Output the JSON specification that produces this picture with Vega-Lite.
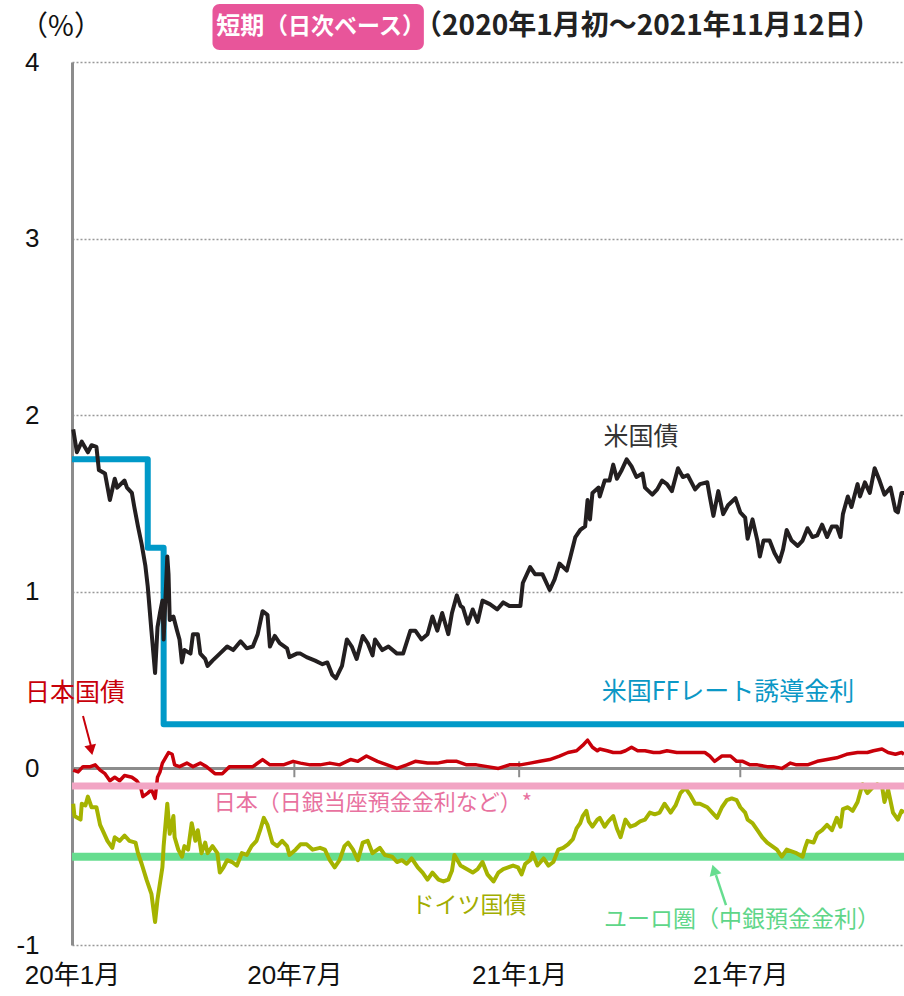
{
  "$schema": "https://vega.github.io/schema/vega-lite/v6.json",
  "width": 832,
  "height": 883,
  "autosize": {"type": "none"},
  "padding": {"left": 72, "top": 62, "right": 0, "bottom": 51},
  "background": "white",
  "config": {"view": {"stroke": null}},
  "datasets": {
    "us": [
      {"d":"2020-01-02","v":1.92},{"d":"2020-01-05","v":1.79},{"d":"2020-01-09","v":1.85},{"d":"2020-01-14","v":1.79},{"d":"2020-01-17","v":1.83},{"d":"2020-01-21","v":1.82},{"d":"2020-01-23","v":1.69},{"d":"2020-01-28","v":1.67},{"d":"2020-02-01","v":1.52},{"d":"2020-02-05","v":1.64},{"d":"2020-02-07","v":1.59},{"d":"2020-02-13","v":1.63},{"d":"2020-02-15","v":1.59},{"d":"2020-02-19","v":1.56},{"d":"2020-02-21","v":1.48},{"d":"2020-02-24","v":1.37},{"d":"2020-02-27","v":1.27},{"d":"2020-03-01","v":1.15},{"d":"2020-03-03","v":1.03},{"d":"2020-03-06","v":0.78},{"d":"2020-03-09","v":0.54},{"d":"2020-03-11","v":0.80},{"d":"2020-03-13","v":0.88},{"d":"2020-03-15","v":0.95},{"d":"2020-03-16","v":0.73},{"d":"2020-03-19","v":1.20},{"d":"2020-03-20","v":1.10},{"d":"2020-03-21","v":0.84},{"d":"2020-03-24","v":0.86},{"d":"2020-03-27","v":0.78},{"d":"2020-03-29","v":0.73},{"d":"2020-03-31","v":0.60},{"d":"2020-04-02","v":0.67},{"d":"2020-04-07","v":0.65},{"d":"2020-04-09","v":0.76},{"d":"2020-04-13","v":0.76},{"d":"2020-04-15","v":0.65},{"d":"2020-04-19","v":0.62},{"d":"2020-04-21","v":0.58},{"d":"2020-04-25","v":0.61},{"d":"2020-05-01","v":0.65},{"d":"2020-05-07","v":0.69},{"d":"2020-05-12","v":0.67},{"d":"2020-05-18","v":0.72},{"d":"2020-05-23","v":0.68},{"d":"2020-05-28","v":0.69},{"d":"2020-06-01","v":0.76},{"d":"2020-06-05","v":0.89},{"d":"2020-06-09","v":0.87},{"d":"2020-06-11","v":0.69},{"d":"2020-06-15","v":0.75},{"d":"2020-06-19","v":0.71},{"d":"2020-06-25","v":0.68},{"d":"2020-06-27","v":0.63},{"d":"2020-07-03","v":0.65},{"d":"2020-07-06","v":0.65},{"d":"2020-07-11","v":0.63},{"d":"2020-07-18","v":0.61},{"d":"2020-07-24","v":0.59},{"d":"2020-07-28","v":0.60},{"d":"2020-08-01","v":0.53},{"d":"2020-08-04","v":0.51},{"d":"2020-08-09","v":0.58},{"d":"2020-08-13","v":0.73},{"d":"2020-08-17","v":0.69},{"d":"2020-08-21","v":0.62},{"d":"2020-08-26","v":0.75},{"d":"2020-08-30","v":0.71},{"d":"2020-09-03","v":0.64},{"d":"2020-09-05","v":0.73},{"d":"2020-09-11","v":0.67},{"d":"2020-09-16","v":0.69},{"d":"2020-09-23","v":0.65},{"d":"2020-09-28","v":0.65},{"d":"2020-10-04","v":0.78},{"d":"2020-10-08","v":0.78},{"d":"2020-10-13","v":0.73},{"d":"2020-10-18","v":0.76},{"d":"2020-10-22","v":0.86},{"d":"2020-10-26","v":0.78},{"d":"2020-10-30","v":0.88},{"d":"2020-11-04","v":0.76},{"d":"2020-11-07","v":0.88},{"d":"2020-11-11","v":0.98},{"d":"2020-11-14","v":0.92},{"d":"2020-11-16","v":0.91},{"d":"2020-11-20","v":0.82},{"d":"2020-11-24","v":0.90},{"d":"2020-11-28","v":0.83},{"d":"2020-12-02","v":0.95},{"d":"2020-12-08","v":0.93},{"d":"2020-12-14","v":0.90},{"d":"2020-12-19","v":0.94},{"d":"2020-12-24","v":0.92},{"d":"2021-01-02","v":0.92},{"d":"2021-01-04","v":1.05},{"d":"2021-01-10","v":1.14},{"d":"2021-01-14","v":1.10},{"d":"2021-01-20","v":1.10},{"d":"2021-01-22","v":1.07},{"d":"2021-01-26","v":1.01},{"d":"2021-01-30","v":1.07},{"d":"2021-02-03","v":1.16},{"d":"2021-02-09","v":1.12},{"d":"2021-02-12","v":1.20},{"d":"2021-02-16","v":1.31},{"d":"2021-02-20","v":1.35},{"d":"2021-02-24","v":1.37},{"d":"2021-02-26","v":1.52},{"d":"2021-02-28","v":1.41},{"d":"2021-03-02","v":1.56},{"d":"2021-03-07","v":1.59},{"d":"2021-03-08","v":1.54},{"d":"2021-03-12","v":1.63},{"d":"2021-03-16","v":1.63},{"d":"2021-03-19","v":1.72},{"d":"2021-03-22","v":1.64},{"d":"2021-03-26","v":1.69},{"d":"2021-03-30","v":1.75},{"d":"2021-04-03","v":1.71},{"d":"2021-04-07","v":1.65},{"d":"2021-04-12","v":1.67},{"d":"2021-04-14","v":1.59},{"d":"2021-04-20","v":1.55},{"d":"2021-04-24","v":1.58},{"d":"2021-04-28","v":1.63},{"d":"2021-05-02","v":1.61},{"d":"2021-05-06","v":1.57},{"d":"2021-05-11","v":1.70},{"d":"2021-05-15","v":1.65},{"d":"2021-05-19","v":1.66},{"d":"2021-05-25","v":1.58},{"d":"2021-05-29","v":1.61},{"d":"2021-06-04","v":1.62},{"d":"2021-06-06","v":1.54},{"d":"2021-06-09","v":1.43},{"d":"2021-06-13","v":1.57},{"d":"2021-06-17","v":1.44},{"d":"2021-06-21","v":1.49},{"d":"2021-06-27","v":1.53},{"d":"2021-07-01","v":1.45},{"d":"2021-07-05","v":1.42},{"d":"2021-07-07","v":1.30},{"d":"2021-07-11","v":1.41},{"d":"2021-07-15","v":1.29},{"d":"2021-07-17","v":1.20},{"d":"2021-07-20","v":1.29},{"d":"2021-07-25","v":1.29},{"d":"2021-07-29","v":1.22},{"d":"2021-08-02","v":1.17},{"d":"2021-08-05","v":1.24},{"d":"2021-08-08","v":1.35},{"d":"2021-08-12","v":1.29},{"d":"2021-08-17","v":1.26},{"d":"2021-08-21","v":1.29},{"d":"2021-08-25","v":1.36},{"d":"2021-08-29","v":1.31},{"d":"2021-09-02","v":1.32},{"d":"2021-09-06","v":1.38},{"d":"2021-09-10","v":1.31},{"d":"2021-09-14","v":1.37},{"d":"2021-09-18","v":1.37},{"d":"2021-09-21","v":1.31},{"d":"2021-09-23","v":1.44},{"d":"2021-09-27","v":1.54},{"d":"2021-09-30","v":1.48},{"d":"2021-10-05","v":1.61},{"d":"2021-10-07","v":1.54},{"d":"2021-10-11","v":1.62},{"d":"2021-10-15","v":1.56},{"d":"2021-10-19","v":1.70},{"d":"2021-10-23","v":1.63},{"d":"2021-10-27","v":1.55},{"d":"2021-11-01","v":1.59},{"d":"2021-11-05","v":1.46},{"d":"2021-11-07","v":1.45},{"d":"2021-11-10","v":1.56},{"d":"2021-11-12","v":1.56}
    ],
    "jgb": [
      {"d":"2020-01-02","v":-0.01},{"d":"2020-01-06","v":-0.02},{"d":"2020-01-10","v":0.01},{"d":"2020-01-16","v":0.01},{"d":"2020-01-20","v":0.02},{"d":"2020-01-24","v":-0.01},{"d":"2020-01-28","v":-0.03},{"d":"2020-02-01","v":-0.07},{"d":"2020-02-05","v":-0.05},{"d":"2020-02-09","v":-0.07},{"d":"2020-02-13","v":-0.04},{"d":"2020-02-19","v":-0.05},{"d":"2020-02-23","v":-0.07},{"d":"2020-02-26","v":-0.10},{"d":"2020-02-28","v":-0.16},{"d":"2020-03-03","v":-0.14},{"d":"2020-03-06","v":-0.12},{"d":"2020-03-09","v":-0.17},{"d":"2020-03-11","v":-0.05},{"d":"2020-03-13","v":-0.02},{"d":"2020-03-15","v":0.03},{"d":"2020-03-20","v":0.09},{"d":"2020-03-23","v":0.08},{"d":"2020-03-25","v":0.02},{"d":"2020-03-29","v":0.01},{"d":"2020-04-04","v":0.03},{"d":"2020-04-09","v":0.01},{"d":"2020-04-15","v":0.03},{"d":"2020-04-20","v":0.01},{"d":"2020-04-27","v":-0.03},{"d":"2020-05-03","v":-0.03},{"d":"2020-05-09","v":0.01},{"d":"2020-05-17","v":0.01},{"d":"2020-05-28","v":0.01},{"d":"2020-06-05","v":0.05},{"d":"2020-06-11","v":0.02},{"d":"2020-06-22","v":0.02},{"d":"2020-06-30","v":0.04},{"d":"2020-07-06","v":0.03},{"d":"2020-07-14","v":0.02},{"d":"2020-07-22","v":0.02},{"d":"2020-07-30","v":0.03},{"d":"2020-08-07","v":0.02},{"d":"2020-08-16","v":0.05},{"d":"2020-08-22","v":0.04},{"d":"2020-08-29","v":0.07},{"d":"2020-09-07","v":0.04},{"d":"2020-09-15","v":0.02},{"d":"2020-09-23","v":0.00},{"d":"2020-10-01","v":0.02},{"d":"2020-10-08","v":0.04},{"d":"2020-10-18","v":0.03},{"d":"2020-10-26","v":0.03},{"d":"2020-11-03","v":0.04},{"d":"2020-11-11","v":0.04},{"d":"2020-11-19","v":0.02},{"d":"2020-11-27","v":0.02},{"d":"2020-12-06","v":0.01},{"d":"2020-12-15","v":0.00},{"d":"2020-12-24","v":0.02},{"d":"2021-01-02","v":0.02},{"d":"2021-01-10","v":0.03},{"d":"2021-01-18","v":0.04},{"d":"2021-01-26","v":0.05},{"d":"2021-02-03","v":0.07},{"d":"2021-02-10","v":0.09},{"d":"2021-02-17","v":0.10},{"d":"2021-02-22","v":0.13},{"d":"2021-02-26","v":0.16},{"d":"2021-03-02","v":0.12},{"d":"2021-03-06","v":0.10},{"d":"2021-03-08","v":0.11},{"d":"2021-03-14","v":0.10},{"d":"2021-03-19","v":0.09},{"d":"2021-03-25","v":0.09},{"d":"2021-03-29","v":0.10},{"d":"2021-04-03","v":0.12},{"d":"2021-04-08","v":0.10},{"d":"2021-04-14","v":0.10},{"d":"2021-04-21","v":0.09},{"d":"2021-04-26","v":0.09},{"d":"2021-05-02","v":0.10},{"d":"2021-05-10","v":0.09},{"d":"2021-05-18","v":0.09},{"d":"2021-05-27","v":0.09},{"d":"2021-06-02","v":0.09},{"d":"2021-06-06","v":0.07},{"d":"2021-06-10","v":0.04},{"d":"2021-06-16","v":0.07},{"d":"2021-06-23","v":0.07},{"d":"2021-06-28","v":0.04},{"d":"2021-07-03","v":0.04},{"d":"2021-07-09","v":0.02},{"d":"2021-07-15","v":0.02},{"d":"2021-07-23","v":0.01},{"d":"2021-07-28","v":0.01},{"d":"2021-08-04","v":0.00},{"d":"2021-08-11","v":0.03},{"d":"2021-08-16","v":0.02},{"d":"2021-08-25","v":0.02},{"d":"2021-09-02","v":0.04},{"d":"2021-09-10","v":0.05},{"d":"2021-09-18","v":0.06},{"d":"2021-09-26","v":0.08},{"d":"2021-10-05","v":0.09},{"d":"2021-10-13","v":0.09},{"d":"2021-10-18","v":0.10},{"d":"2021-10-25","v":0.11},{"d":"2021-10-30","v":0.09},{"d":"2021-11-05","v":0.08},{"d":"2021-11-10","v":0.09},{"d":"2021-11-12","v":0.08}
    ],
    "bund": [
      {"d":"2020-01-02","v":-0.20},{"d":"2020-01-03","v":-0.27},{"d":"2020-01-08","v":-0.29},{"d":"2020-01-09","v":-0.20},{"d":"2020-01-12","v":-0.21},{"d":"2020-01-14","v":-0.16},{"d":"2020-01-17","v":-0.22},{"d":"2020-01-21","v":-0.22},{"d":"2020-01-24","v":-0.32},{"d":"2020-01-26","v":-0.35},{"d":"2020-01-30","v":-0.41},{"d":"2020-02-03","v":-0.45},{"d":"2020-02-05","v":-0.39},{"d":"2020-02-09","v":-0.41},{"d":"2020-02-13","v":-0.38},{"d":"2020-02-17","v":-0.41},{"d":"2020-02-22","v":-0.42},{"d":"2020-02-24","v":-0.48},{"d":"2020-02-27","v":-0.54},{"d":"2020-03-02","v":-0.63},{"d":"2020-03-06","v":-0.71},{"d":"2020-03-09","v":-0.87},{"d":"2020-03-11","v":-0.74},{"d":"2020-03-15","v":-0.56},{"d":"2020-03-16","v":-0.44},{"d":"2020-03-19","v":-0.20},{"d":"2020-03-21","v":-0.37},{"d":"2020-03-24","v":-0.27},{"d":"2020-03-25","v":-0.39},{"d":"2020-03-28","v":-0.46},{"d":"2020-03-31","v":-0.50},{"d":"2020-04-02","v":-0.44},{"d":"2020-04-05","v":-0.46},{"d":"2020-04-08","v":-0.31},{"d":"2020-04-11","v":-0.41},{"d":"2020-04-13","v":-0.35},{"d":"2020-04-16","v":-0.48},{"d":"2020-04-19","v":-0.42},{"d":"2020-04-21","v":-0.48},{"d":"2020-04-25","v":-0.44},{"d":"2020-04-29","v":-0.48},{"d":"2020-05-01","v":-0.59},{"d":"2020-05-04","v":-0.56},{"d":"2020-05-07","v":-0.52},{"d":"2020-05-11","v":-0.53},{"d":"2020-05-15","v":-0.55},{"d":"2020-05-19","v":-0.48},{"d":"2020-05-23","v":-0.49},{"d":"2020-05-27","v":-0.44},{"d":"2020-05-31","v":-0.41},{"d":"2020-06-03","v":-0.35},{"d":"2020-06-06","v":-0.28},{"d":"2020-06-09","v":-0.32},{"d":"2020-06-13","v":-0.42},{"d":"2020-06-17","v":-0.44},{"d":"2020-06-21","v":-0.41},{"d":"2020-06-25","v":-0.44},{"d":"2020-06-27","v":-0.49},{"d":"2020-07-02","v":-0.46},{"d":"2020-07-06","v":-0.43},{"d":"2020-07-11","v":-0.43},{"d":"2020-07-16","v":-0.46},{"d":"2020-07-22","v":-0.45},{"d":"2020-07-26","v":-0.46},{"d":"2020-07-30","v":-0.52},{"d":"2020-08-03","v":-0.56},{"d":"2020-08-07","v":-0.52},{"d":"2020-08-11","v":-0.44},{"d":"2020-08-14","v":-0.42},{"d":"2020-08-18","v":-0.46},{"d":"2020-08-22","v":-0.52},{"d":"2020-08-26","v":-0.42},{"d":"2020-08-30","v":-0.41},{"d":"2020-09-03","v":-0.48},{"d":"2020-09-09","v":-0.45},{"d":"2020-09-13","v":-0.49},{"d":"2020-09-19","v":-0.50},{"d":"2020-09-23","v":-0.53},{"d":"2020-09-27","v":-0.52},{"d":"2020-10-01","v":-0.54},{"d":"2020-10-05","v":-0.51},{"d":"2020-10-10","v":-0.56},{"d":"2020-10-14","v":-0.59},{"d":"2020-10-18","v":-0.63},{"d":"2020-10-22","v":-0.59},{"d":"2020-10-27","v":-0.63},{"d":"2020-10-31","v":-0.64},{"d":"2020-11-04","v":-0.63},{"d":"2020-11-07","v":-0.58},{"d":"2020-11-09","v":-0.49},{"d":"2020-11-14","v":-0.55},{"d":"2020-11-19","v":-0.57},{"d":"2020-11-24","v":-0.59},{"d":"2020-11-28","v":-0.57},{"d":"2020-12-02","v":-0.53},{"d":"2020-12-06","v":-0.60},{"d":"2020-12-11","v":-0.64},{"d":"2020-12-15","v":-0.59},{"d":"2020-12-19","v":-0.57},{"d":"2020-12-23","v":-0.56},{"d":"2020-12-27","v":-0.55},{"d":"2020-12-31","v":-0.56},{"d":"2021-01-03","v":-0.60},{"d":"2021-01-06","v":-0.54},{"d":"2021-01-10","v":-0.52},{"d":"2021-01-12","v":-0.48},{"d":"2021-01-16","v":-0.55},{"d":"2021-01-21","v":-0.51},{"d":"2021-01-25","v":-0.55},{"d":"2021-01-29","v":-0.53},{"d":"2021-02-02","v":-0.46},{"d":"2021-02-06","v":-0.45},{"d":"2021-02-10","v":-0.43},{"d":"2021-02-14","v":-0.40},{"d":"2021-02-17","v":-0.34},{"d":"2021-02-20","v":-0.31},{"d":"2021-02-22","v":-0.27},{"d":"2021-02-25","v":-0.24},{"d":"2021-02-27","v":-0.30},{"d":"2021-03-02","v":-0.33},{"d":"2021-03-06","v":-0.29},{"d":"2021-03-08","v":-0.28},{"d":"2021-03-12","v":-0.33},{"d":"2021-03-15","v":-0.30},{"d":"2021-03-19","v":-0.27},{"d":"2021-03-22","v":-0.34},{"d":"2021-03-25","v":-0.39},{"d":"2021-03-29","v":-0.29},{"d":"2021-04-02","v":-0.33},{"d":"2021-04-06","v":-0.32},{"d":"2021-04-10","v":-0.30},{"d":"2021-04-14","v":-0.29},{"d":"2021-04-18","v":-0.25},{"d":"2021-04-22","v":-0.26},{"d":"2021-04-26","v":-0.25},{"d":"2021-04-30","v":-0.20},{"d":"2021-05-05","v":-0.25},{"d":"2021-05-09","v":-0.21},{"d":"2021-05-13","v":-0.14},{"d":"2021-05-17","v":-0.11},{"d":"2021-05-21","v":-0.15},{"d":"2021-05-25","v":-0.20},{"d":"2021-05-29","v":-0.20},{"d":"2021-06-04","v":-0.22},{"d":"2021-06-08","v":-0.25},{"d":"2021-06-12","v":-0.28},{"d":"2021-06-16","v":-0.22},{"d":"2021-06-20","v":-0.18},{"d":"2021-06-24","v":-0.17},{"d":"2021-06-28","v":-0.18},{"d":"2021-07-01","v":-0.22},{"d":"2021-07-05","v":-0.25},{"d":"2021-07-07","v":-0.29},{"d":"2021-07-11","v":-0.31},{"d":"2021-07-15","v":-0.35},{"d":"2021-07-19","v":-0.39},{"d":"2021-07-23","v":-0.42},{"d":"2021-07-27","v":-0.44},{"d":"2021-07-31","v":-0.46},{"d":"2021-08-04","v":-0.50},{"d":"2021-08-08","v":-0.46},{"d":"2021-08-12","v":-0.47},{"d":"2021-08-16","v":-0.48},{"d":"2021-08-21","v":-0.50},{"d":"2021-08-23","v":-0.45},{"d":"2021-08-25","v":-0.41},{"d":"2021-08-30","v":-0.42},{"d":"2021-09-02","v":-0.37},{"d":"2021-09-06","v":-0.35},{"d":"2021-09-10","v":-0.32},{"d":"2021-09-14","v":-0.35},{"d":"2021-09-18","v":-0.28},{"d":"2021-09-21","v":-0.33},{"d":"2021-09-23","v":-0.23},{"d":"2021-09-27","v":-0.22},{"d":"2021-10-01","v":-0.24},{"d":"2021-10-05","v":-0.19},{"d":"2021-10-09","v":-0.09},{"d":"2021-10-13","v":-0.14},{"d":"2021-10-17","v":-0.11},{"d":"2021-10-21","v":-0.09},{"d":"2021-10-25","v":-0.10},{"d":"2021-10-27","v":-0.19},{"d":"2021-10-30","v":-0.12},{"d":"2021-11-03","v":-0.25},{"d":"2021-11-07","v":-0.29},{"d":"2021-11-10","v":-0.24},{"d":"2021-11-12","v":-0.25}
    ],
    "ff": [
      {"d":"2020-01-01","v":1.75},{"d":"2020-03-03","v":1.25},{"d":"2020-03-16","v":0.25},{"d":"2021-11-12","v":0.25}
    ],
    "boj": [
      {"d":"2020-01-01","v":-0.1},{"d":"2021-11-12","v":-0.1}
    ],
    "ecb": [
      {"d":"2020-01-01","v":-0.5},{"d":"2021-11-12","v":-0.5}
    ],
    "ticks": [
      {"d":"2020-07-01"},{"d":"2021-01-01"},{"d":"2021-07-01"}
    ],
    "one": [{}]
  },
  "layer": [
    {
      "data": {"name": "ff"},
      "mark": {"type": "line", "color": "#0099c8", "strokeWidth": 6, "interpolate": "step-after", "strokeJoin": "round"},
      "encoding": {
        "x": {
          "field": "d", "type": "temporal",
          "scale": {"type": "utc", "domain": [{"year":2020,"month":1,"date":1,"utc":true},{"year":2021,"month":11,"date":12,"utc":true}]},
          "axis": {
            "title": null,
            "values": [{"year":2020,"month":1,"date":1,"utc":true},{"year":2020,"month":7,"date":1,"utc":true},{"year":2021,"month":1,"date":1,"utc":true},{"year":2021,"month":7,"date":1,"utc":true}],
            "labelExpr": "utcFormat(datum.value, '%y') + '年' + utcFormat(datum.value, '%-m') + '月'",
            "domain": false, "ticks": false, "tickSize": 0, "grid": false,
            "labelFont": "Liberation Sans, Noto Sans CJK JP", "labelFontSize": 26, "labelColor": "#111111",
            "labelPadding": 17, "labelBound": false, "labelFlush": false, "labelOverlap": false
          }
        },
        "y": {
          "field": "v", "type": "quantitative",
          "scale": {"domain": [-1, 4], "nice": false, "zero": false},
          "axis": {
            "title": null,
            "values": [-1, 0, 1, 2, 3, 4],
            "labelExpr": "'' + datum.value",
            "ticks": false, "tickSize": 0,
            "domain": true, "domainColor": "#8c8c8c", "domainWidth": 3,
            "grid": true, "gridColor": "#999999", "gridDash": [2, 2], "gridWidth": 1.5,
            "labelFont": "Liberation Sans", "labelFontSize": 26, "labelColor": "#111111",
            "labelPadding": 33, "labelAlign": "right", "labelBaseline": "middle"
          }
        }
      }
    },
    {
      "data": {"name": "ticks"},
      "mark": {"type": "rule", "color": "#8c8c8c", "strokeWidth": 2},
      "encoding": {
        "x": {"field": "d", "type": "temporal"},
        "y": {"datum": 0.04, "type": "quantitative"},
        "y2": {"datum": -0.05}
      }
    },
    {
      "data": {"name": "one"},
      "mark": {"type": "rule", "color": "#8c8c8c", "strokeWidth": 3},
      "encoding": {"y": {"datum": 0, "type": "quantitative"}}
    },
    {
      "data": {"name": "ecb"},
      "mark": {"type": "line", "color": "#66dd8f", "strokeWidth": 8},
      "encoding": {
        "x": {"field": "d", "type": "temporal"},
        "y": {"field": "v", "type": "quantitative"}
      }
    },
    {
      "data": {"name": "us"},
      "mark": {"type": "line", "color": "#231f20", "strokeWidth": 4, "strokeJoin": "round"},
      "encoding": {
        "x": {"field": "d", "type": "temporal"},
        "y": {"field": "v", "type": "quantitative"}
      }
    },
    {
      "data": {"name": "bund"},
      "mark": {"type": "line", "color": "#a5b300", "strokeWidth": 4, "strokeJoin": "round"},
      "encoding": {
        "x": {"field": "d", "type": "temporal"},
        "y": {"field": "v", "type": "quantitative"}
      }
    },
    {
      "data": {"name": "jgb"},
      "mark": {"type": "line", "color": "#c8000a", "strokeWidth": 3.5, "strokeJoin": "round"},
      "encoding": {
        "x": {"field": "d", "type": "temporal"},
        "y": {"field": "v", "type": "quantitative"}
      }
    },
    {
      "data": {"name": "boj"},
      "mark": {"type": "line", "color": "#f2a5c4", "strokeWidth": 7},
      "encoding": {
        "x": {"field": "d", "type": "temporal"},
        "y": {"field": "v", "type": "quantitative"}
      }
    },
    {
      "data": {"name": "one"},
      "mark": {"type": "text", "text": "（%）", "color": "#111111", "font": "Noto Sans CJK JP", "fontSize": 28, "align": "center", "baseline": "middle"},
      "encoding": {
        "x": {"datum": {"year":2019,"month":12,"date":23,"utc":true}, "type": "temporal"},
        "y": {"datum": 4.19, "type": "quantitative"}
      }
    },
    {
      "data": {"name": "one"},
      "mark": {"type": "rect", "color": "#e8559a", "cornerRadius": 7},
      "encoding": {
        "x": {"datum": {"year":2020,"month":4,"date":25,"utc":true}, "type": "temporal"},
        "x2": {"datum": {"year":2020,"month":10,"date":15,"utc":true}},
        "y": {"datum": 4.328, "type": "quantitative"},
        "y2": {"datum": 4.068}
      }
    },
    {
      "data": {"name": "one"},
      "mark": {"type": "text", "text": "短期", "color": "white", "font": "Noto Sans CJK JP", "fontSize": 24, "fontWeight": "bold", "align": "left", "baseline": "middle"},
      "encoding": {
        "x": {"datum": {"year":2020,"month":4,"date":28,"utc":true}, "type": "temporal"},
        "y": {"datum": 4.2, "type": "quantitative"}
      }
    },
    {
      "data": {"name": "one"},
      "mark": {"type": "text", "text": "（日次ベース）", "color": "white", "font": "Noto Sans CJK JP", "fontSize": 23, "fontWeight": "bold", "align": "left", "baseline": "middle"},
      "encoding": {
        "x": {"datum": {"year":2020,"month":6,"date":7,"utc":true}, "type": "temporal"},
        "y": {"datum": 4.2, "type": "quantitative"}
      }
    },
    {
      "data": {"name": "one"},
      "mark": {"type": "text", "text": "（2020年1月初～2021年11月12日）", "color": "#222222", "font": "Noto Sans CJK JP", "fontSize": 28, "fontWeight": "bold", "align": "left", "baseline": "middle"},
      "encoding": {
        "x": {"datum": {"year":2020,"month":10,"date":7,"utc":true}, "type": "temporal"},
        "y": {"datum": 4.2, "type": "quantitative"}
      }
    },
    {
      "data": {"name": "one"},
      "mark": {"type": "text", "text": "米国債", "color": "#333333", "font": "Noto Sans CJK JP", "fontSize": 25, "align": "center", "baseline": "middle"},
      "encoding": {
        "x": {"datum": {"year":2021,"month":4,"date":10,"hours":16,"utc":true}, "type": "temporal"},
        "y": {"datum": 1.877, "type": "quantitative"}
      }
    },
    {
      "data": {"name": "one"},
      "mark": {"type": "text", "text": "米国FFレート誘導金利", "color": "#0b98c6", "font": "Noto Sans CJK JP", "fontSize": 25, "align": "center", "baseline": "middle"},
      "encoding": {
        "x": {"datum": {"year":2021,"month":6,"date":21,"utc":true}, "type": "temporal"},
        "y": {"datum": 0.433, "type": "quantitative"}
      }
    },
    {
      "data": {"name": "one"},
      "mark": {"type": "text", "text": "日本国債", "color": "#c8000a", "font": "Noto Sans CJK JP", "fontSize": 25, "align": "center", "baseline": "middle"},
      "encoding": {
        "x": {"datum": {"year":2020,"month":1,"date":3,"hours":12,"utc":true}, "type": "temporal"},
        "y": {"datum": 0.427, "type": "quantitative"}
      }
    },
    {
      "data": {"name": "one"},
      "mark": {"type": "text", "text": "日本（日銀当座預金金利など）*", "color": "#e8729f", "font": "Noto Sans CJK JP", "fontSize": 22, "align": "left", "baseline": "middle"},
      "encoding": {
        "x": {"datum": {"year":2020,"month":4,"date":26,"utc":true}, "type": "temporal"},
        "y": {"datum": -0.196, "type": "quantitative"}
      }
    },
    {
      "data": {"name": "one"},
      "mark": {"type": "text", "text": "ドイツ国債", "color": "#a2ad00", "font": "Noto Sans CJK JP", "fontSize": 23, "align": "center", "baseline": "middle"},
      "encoding": {
        "x": {"datum": {"year":2020,"month":11,"date":21,"utc":true}, "type": "temporal"},
        "y": {"datum": -0.779, "type": "quantitative"}
      }
    },
    {
      "data": {"name": "one"},
      "mark": {"type": "text", "text": "ユーロ圏（中銀預金金利）", "color": "#5fd689", "font": "Noto Sans CJK JP", "fontSize": 23, "align": "center", "baseline": "middle"},
      "encoding": {
        "x": {"datum": {"year":2021,"month":7,"date":2,"hours":12,"utc":true}, "type": "temporal"},
        "y": {"datum": -0.858, "type": "quantitative"}
      }
    },
    {
      "data": {"name": "one"},
      "mark": {"type": "rule", "color": "#c8000a", "strokeWidth": 2},
      "encoding": {
        "x": {"datum": {"year":2020,"month":1,"date":10,"utc":true}, "type": "temporal"},
        "x2": {"datum": {"year":2020,"month":1,"date":16,"hours":12,"utc":true}},
        "y": {"datum": 0.297, "type": "quantitative"},
        "y2": {"datum": 0.127}
      }
    },
    {
      "data": {"name": "one"},
      "mark": {"type": "point", "shape": "triangle-down", "filled": true, "color": "#c8000a", "size": 140, "angle": -12, "opacity": 1},
      "encoding": {
        "x": {"datum": {"year":2020,"month":1,"date":16,"hours":18,"utc":true}, "type": "temporal"},
        "y": {"datum": 0.104, "type": "quantitative"}
      }
    },
    {
      "data": {"name": "one"},
      "mark": {"type": "rule", "color": "#66dd8f", "strokeWidth": 2.5},
      "encoding": {
        "x": {"datum": {"year":2021,"month":6,"date":19,"hours":7,"utc":true}, "type": "temporal"},
        "x2": {"datum": {"year":2021,"month":6,"date":11,"hours":2,"utc":true}},
        "y": {"datum": -0.774, "type": "quantitative"},
        "y2": {"datum": -0.604}
      }
    },
    {
      "data": {"name": "one"},
      "mark": {"type": "point", "shape": "triangle-up", "filled": true, "color": "#66dd8f", "size": 150, "angle": -17, "opacity": 1},
      "encoding": {
        "x": {"datum": {"year":2021,"month":6,"date":9,"hours":12,"utc":true}, "type": "temporal"},
        "y": {"datum": -0.575, "type": "quantitative"}
      }
    }
  ]
}
